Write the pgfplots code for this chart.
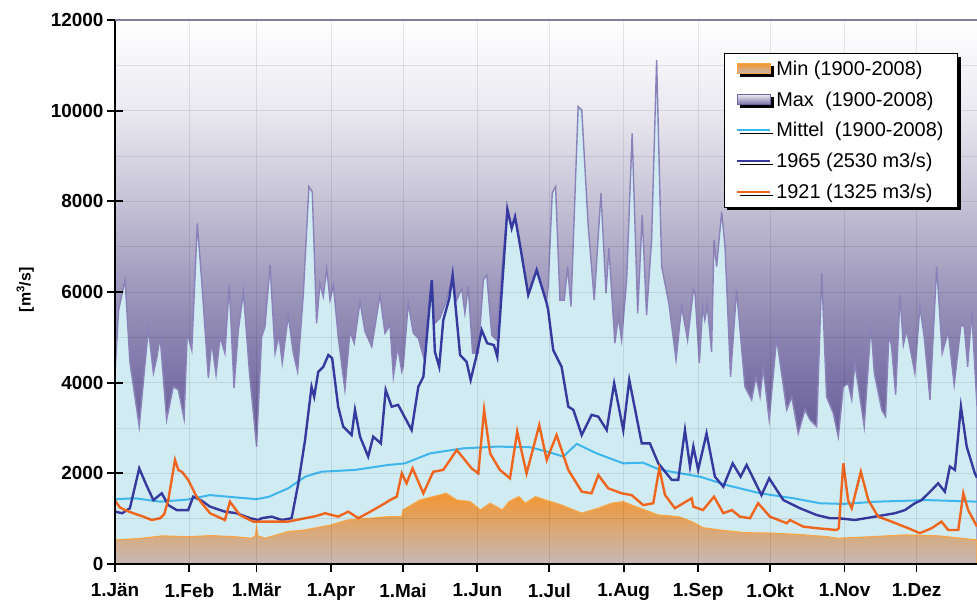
\documentclass[border=0pt]{standalone}
\usepackage{fontspec}
\setmainfont{Liberation Sans}
\usepackage{pgfplots}
\pgfplotsset{compat=1.18}
\usepackage{pgfplotstable}
\usetikzlibrary{shadows}

\definecolor{maxdark}{RGB}{93,82,144}
\definecolor{maxc3}{RGB}{107,97,155}
\definecolor{maxc4}{RGB}{122,113,166}
\definecolor{maxc6}{RGB}{156,151,187}
\definecolor{maxc8}{RGB}{197,194,214}
\definecolor{maxc10}{RGB}{234,233,240}
\definecolor{maxline}{RGB}{138,130,184}
\definecolor{maxborder}{RGB}{106,100,160}
\definecolor{lightfill}{RGB}{209,235,243}
\definecolor{minorange}{RGB}{243,150,50}
\definecolor{mingrey}{RGB}{196,185,182}
\definecolor{minline}{RGB}{247,165,70}
\definecolor{mittel}{RGB}{60,182,236}
\definecolor{c1965}{RGB}{54,58,158}
\definecolor{c1921}{RGB}{240,102,30}
\definecolor{topline}{RGB}{130,124,160}

\pgfdeclareverticalshading{maxshade}{100bp}{color(0bp)=(maxdark); color(25bp)=(maxdark);
  color(37.5bp)=(maxc3); color(41.7bp)=(maxc4); color(50bp)=(maxc6);
  color(58.3bp)=(maxc8); color(66.7bp)=(maxc10); color(75bp)=(white); color(100bp)=(white)}

% day of year, discharge in m3/s
\pgfplotstableread{
d v
0 4200
1.5 5600
4.2 6265
6.2 4460
10.1 3030
13.9 5200
16 4210
17.4 4540
18.8 5015
21.5 3180
24.3 3910
26.4 3840
28.8 3200
30.1 5100
32 4720
34.3 7515
36.1 6265
38.9 4100
40.3 4900
42.1 4170
43.8 5015
45.8 4650
47.6 6150
49.6 3880
51.4 5160
53.5 6000
56 4240
59 2590
61.1 5015
62.5 5235
64.6 6600
66.7 4650
68.3 5050
69.7 4430
72.2 5490
74.3 4650
76.1 4240
78.5 5970
80.8 8325
82.2 8210
84 5310
85.4 6190
86.8 5900
88.2 6520
89.6 5820
91 6150
93 5015
95.8 3840
97.9 5125
99.7 4870
102.1 5790
104.2 5125
107 4790
110.4 5935
112.5 5090
114.6 5270
116 4130
117.8 4790
119.5 4240
120.1 4350
122.2 5750
124.3 5090
126.4 4980
128.5 4575
132 6265
133.3 5310
135.4 5420
138.2 5820
140.7 6375
142.4 5820
144.5 6080
145.8 5530
147.2 6120
149 4650
151.4 4650
153.5 6265
154.9 6375
157 5050
159 4940
161.1 6410
163.5 7825
165.3 7440
166.7 7660
168.8 7000
172.2 5935
175.7 6485
179.9 5820
180.5 6120
182.2 8180
183.6 8325
185.4 5820
187.2 5820
188.6 6560
190 5680
193 10090
194.5 10015
197.2 7440
199.7 5820
202.5 8180
204.6 5970
205.8 6965
208.3 4870
209.7 5455
211.1 4940
213.2 6265
215.5 9500
217.8 5530
219.7 7700
221.5 5490
223.6 7150
225.7 11120
227.8 6560
230.8 5750
233.8 4500
236.1 5680
238.6 4940
241 6045
241.7 5970
243.5 4430
244.9 5680
245.8 5380
246.8 5710
248.6 4680
249.6 7150
250.7 6560
252.8 7770
254.2 7000
256.5 4130
259 6045
262.5 3910
265.3 3620
267.1 4130
268.8 3690
270.1 4320
272.6 3180
275.7 4980
279.9 3400
282 3690
284.7 2880
287.5 3400
289.6 3180
292.4 3030
294.5 6410
296.5 3690
299.3 3325
301.4 2800
303.5 3910
305.5 3985
307 3620
308.3 4430
312.2 3030
315 5270
316.4 4210
319.5 3400
321.1 3250
322.5 5090
323.6 4790
325.3 3730
327.1 5935
328.5 4830
329.9 5160
333.3 4210
335.4 5680
337.2 5015
339.6 3620
342.4 6560
344.7 4650
347.2 5125
349.7 3950
352.5 5270
353.9 5235
355.3 4350
357 5570
359.2 3470
}\maxdata

\pgfplotstableread{
d v
0 530
10 560
20 620
30 600
40 625
50 600
57 567
58.5 620
59 825
59.5 620
62.5 567
72 712
79 750
90 860
97 970
107 1010
114 1045
119.5 1045
120 1190
127 1410
132.6 1485
138 1560
142.4 1410
148 1375
152.3 1190
156.3 1340
161.4 1190
164.2 1375
168.3 1485
171 1340
175.2 1485
179.4 1410
186 1300
194.5 1120
201.4 1230
207 1340
211.8 1375
215.3 1300
220.8 1190
226.4 1080
234.7 1045
240.3 935
245 800
252 750
262 690
274 680
285 650
297 600
301 567
315 600
329 640
343 620
359.2 530
}\mindata

\pgfplotstableread{
d v
0 1430
8.3 1450
18.8 1375
30 1420
39.6 1520
50 1470
59 1430
64 1480
72.2 1670
79.2 1925
86 2035
100 2075
113.9 2185
120.8 2220
131.3 2440
145 2550
159 2590
173 2575
180 2480
186.8 2370
192.4 2650
200.7 2440
211.8 2220
220 2235
227 2080
243.8 1925
254.9 1740
268.8 1560
282.6 1450
293.8 1340
303.5 1325
317.4 1375
338.2 1410
359.2 1375
}\mitteldata

\pgfplotstableread{
d v
0 1155
3 1120
6.2 1230
10.1 2110
13 1750
16 1410
19.5 1560
22.2 1300
25.7 1190
30.5 1190
32.6 1485
36 1400
39.6 1265
45.8 1155
50.7 1120
56.3 1010
59.7 970
61.1 1010
65.3 1045
69.5 970
73.6 1010
76.4 1780
79.2 2735
81.9 3910
83 3690
84.7 4240
86.8 4350
88.9 4610
90.5 4540
93 3470
95.1 3030
98.6 2845
100 3400
102.1 2810
105.5 2370
107.6 2810
110.8 2660
112.8 3840
115.3 3470
118 3510
120.1 3300
123.6 2955
126.4 3910
128.5 4130
132 6265
133.3 4680
135.1 4350
136.8 5380
139.3 5860
140.7 6375
143.8 4610
146.5 4460
148.2 4060
150.4 4540
152.8 5160
155.1 4870
157.9 4830
159.3 4575
163.5 7825
165.3 7405
166.7 7660
169 6965
172.2 5935
175.7 6485
179.9 5750
180.5 5600
182.6 4720
186.1 4350
188.9 3470
191 3400
194.5 2845
198.6 3290
201.4 3250
204.9 2955
208 3985
211.8 2955
214.3 4060
219.5 2660
222.9 2660
226.4 2220
232 1855
234.7 1855
237.5 2955
239.6 2150
241 2590
243 2075
246.5 2880
250 1925
253.5 1705
257.4 2220
260.7 1925
263.2 2185
269.4 1520
272.6 1890
278.5 1410
285.4 1230
292.4 1080
297.9 1010
301.4 1010
308.3 970
316.7 1045
325 1120
329.2 1190
333.3 1340
336.1 1410
340.3 1630
343 1780
345.8 1595
347.9 2150
350 2075
352.5 3470
354.9 2590
358.3 2000
359.2 1900
}\jahrA

\pgfplotstableread{
d v
0 1400
2 1250
4.2 1190
7.6 1120
11.8 1045
15.3 970
18.8 1010
20.5 1100
22.2 1410
25 2295
26.4 2075
28 2030
30.5 1855
34 1485
39.6 1120
45.8 970
47.9 1375
52 1080
57.6 935
62.5 935
72.2 935
79.2 1010
84 1060
87.5 1120
93 1045
97.2 1155
101.4 1010
107.6 1190
112.5 1340
114.6 1410
117.4 1485
119.5 2000
121.5 1780
124 2110
128.5 1560
132.6 2035
136.8 2075
142.4 2515
148.6 2110
151.4 2000
153.8 3400
156.3 2440
160.4 2075
164.6 1890
167.6 2920
171.5 2000
176.8 3065
179.9 2295
184 2845
188.9 2075
194.5 1595
198.6 1560
201.4 1960
205.5 1670
211.1 1560
215.3 1520
220.1 1300
224.3 1340
226.8 2110
229.2 1520
233.3 1230
240.3 1450
241 1265
245 1190
249.6 1485
253.5 1120
257 1190
260.4 1045
264.6 1010
268 1340
272.9 1045
279.9 900
281.3 970
286.8 825
292.4 790
300.7 750
301.6 790
303.5 2220
305.5 1400
307 1230
310.8 2035
313.9 1410
318 1045
323.6 935
330.5 790
335.4 680
340.3 790
344.4 935
347.2 750
351.4 750
353.5 1560
355.5 1190
359.2 825
}\jahrB

\begin{document}
\begin{tikzpicture}
\useasboundingbox (-115bp,-44bp) rectangle (862bp,564bp);
\begin{axis}[
  at={(0,0)}, anchor=south west,
  scale only axis, width=862bp, height=544bp,
  xmin=0, xmax=359.2, ymin=0, ymax=12000,
  axis x line*=bottom, axis y line*=left,
  axis line style={black, line width=2bp},
  axis on top,
  axis background/.style={shading=maxshade},
  xtick={0,31,59,90,120,151,181,212,243,273,304,334},
  xticklabels={1.Jän,1.Feb,1.Mär,1.Apr,1.Mai,1.Jun,1.Jul,1.Aug,1.Sep,1.Okt,1.Nov,1.Dez},
  ytick={0,2000,...,12000},
  minor ytick={1000,3000,...,11000},
  xmajorgrids, ymajorgrids, yminorgrids,
  major grid style={black, opacity=0.09, line width=0.8bp},
  minor grid style={black, opacity=0.09, line width=0.8bp},
  minor tick length=0pt,
  major tick length=16bp,
  ytick align=center,
  xtick align=outside,
  xtick style={/pgfplots/major tick length=8bp},
  tick style={black, line width=1.8bp},
  scaled y ticks=false,
  tick label style={font=\fontsize{19}{22}\selectfont\bfseries},
  yticklabel style={/pgf/number format/1000 sep={}, /pgf/number format/assume math mode=true},
  ylabel={[m\textsuperscript{3}/s]},
  ylabel style={font=\fontsize{16}{18}\selectfont\bfseries, at={(axis description cs:-0.104,0.504)}, anchor=center},
  legend cell align=left,
  legend style={at={(0.978,0.939)}, anchor=north east, draw=black, line width=1bp, fill=white,
    font=\fontsize{20}{23}\selectfont, inner xsep=12bp, inner ysep=5bp, row sep=11bp,
    /tikz/every odd column/.append style={column sep=3bp},
    drop shadow={shadow xshift=3bp, shadow yshift=-3bp, fill=black, opacity=1}},
]
\addplot[forget plot, draw=maxline, line width=1.4bp, fill=lightfill] table[x=d, y=v] {\maxdata} \closedcycle;
\addplot[forget plot, draw=minline, line width=1.2bp, top color=minorange, bottom color=mingrey] table[x=d, y=v] {\mindata} \closedcycle;
\addplot[forget plot, mittel, line width=2bp] table[x=d, y=v] {\mitteldata};
\addplot[forget plot, c1965, line width=2.4bp] table[x=d, y=v] {\jahrA};
\addplot[forget plot, c1921, line width=2.4bp] table[x=d, y=v] {\jahrB};

\addlegendimage{legend image code/.code={\draw[draw=minline, line width=1bp, top color=minorange, bottom color=mingrey] (0bp,-5bp) rectangle (33bp,5bp);}}
\addlegendentry{Min (1900-2008)}
\addlegendimage{legend image code/.code={\draw[draw=maxborder, line width=1bp, top color=maxc10, bottom color=maxc4] (0bp,-5bp) rectangle (33bp,5bp);}}
\addlegendentry{Max\ \ (1900-2008)}
\addlegendimage{legend image code/.code={\draw[mittel, line width=2bp] (0bp,0bp) -- (33bp,0bp);}}
\addlegendentry{Mittel\ \ (1900-2008)}
\addlegendimage{legend image code/.code={\draw[c1965, line width=2bp] (0bp,0bp) -- (33bp,0bp);}}
\addlegendentry{1965 (2530 m3/s)}
\addlegendimage{legend image code/.code={\draw[c1921, line width=2bp] (0bp,0bp) -- (33bp,0bp);}}
\addlegendentry{1921 (1325 m3/s)}
\end{axis}
\draw[topline, line width=1.8bp] (current axis.north west) -- (current axis.north east);
\end{tikzpicture}
\end{document}
